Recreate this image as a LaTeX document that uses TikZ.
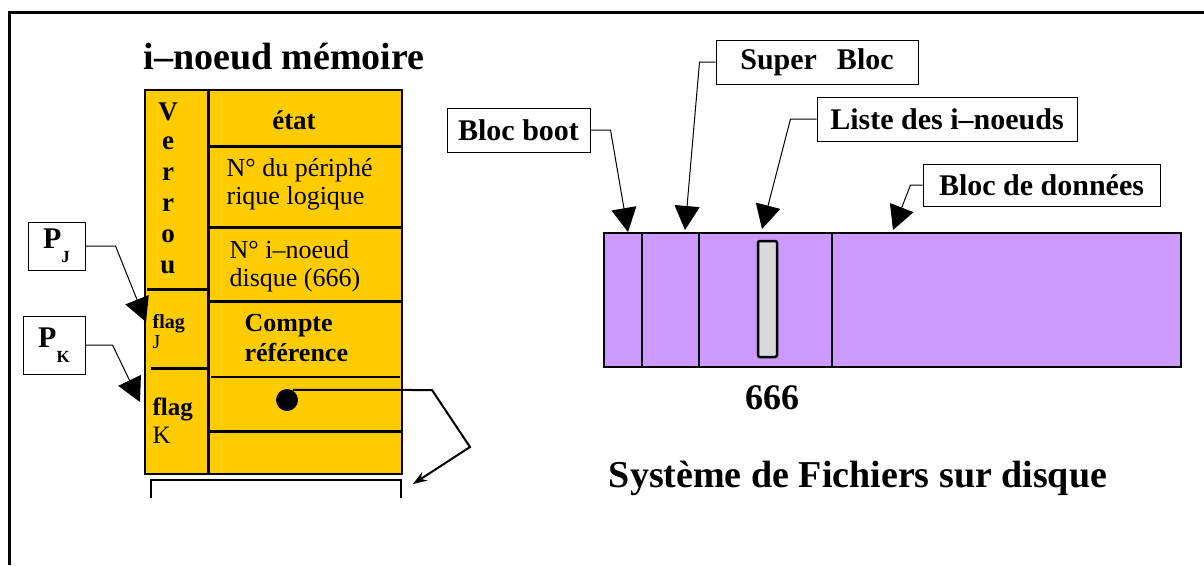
\documentclass[tikz,border=0pt]{standalone}
\usepackage{fontspec}
\setmainfont{Liberation Serif}
\usetikzlibrary{%
  arrows.meta,%
  positioning,%
  calc%
}
\definecolor{inodeyellow}{RGB}{255,204,0}
\definecolor{diskviolet}{RGB}{204,153,255}
\definecolor{slotgray}{RGB}{217,217,217}

\begin{document}
\begin{tikzpicture}[
  x=1pt, y=-1pt, line width=1.2pt, draw=black,
  tagbox/.style={rectangle, draw=black, line width=1pt, fill=white, inner sep=0pt, font=\fontsize{30}{32}\selectfont\bfseries},
  field/.style={anchor=west, align=left, inner sep=0pt, font=\fontsize{26}{28}\selectfont},
  vletter/.style={inner sep=0pt, font=\fontsize{27}{28}\selectfont\bfseries},
  bigarrow/.style={-{Triangle[length=24pt,width=25pt]}, line width=1pt},
  sep/.style={line width=3pt}
]
\useasboundingbox (0,0) rectangle (1204,565);

% cadre
\draw[line width=3pt] (9,565) -- (9,12) -- (1204,12);

% i-noeud en memoire
\node[font=\fontsize{38}{40}\selectfont\bfseries] (titre) at (284,57) {i--noeud mémoire};
\filldraw[fill=inodeyellow, line width=1.5pt] (145,90) rectangle (402,474);
\draw[sep] (208,90) -- (208,474);
\foreach \y in {146,227,301,431} {
  \draw[sep] (208,\y) -- (402,\y);
}
\draw (211,377) -- (400,377);
\draw[sep] (147,289) -- (208,289);
\draw[sep] (151,368) -- (208,368);

\foreach \c [count=\i from 0] in {V,e,r,r,o,u} {
  \node[vletter] (verrou\i) at (168,112+31*\i) {\c};
}
\node[vletter] (etat) at (294,120) {état};
\node[field] (periph) at (226,184) {N° du périphé\\rique logique};
\node[field] (numero) at (229,266) {N° i--noeud\\disque (666)};
\node[field, font=\fontsize{26}{30}\selectfont\bfseries] (compte) at (244,338) {Compte\\référence};
\node[field, font=\fontsize{20}{20}\selectfont] (flagj) at (152,332) {\textbf{flag}\\J};
\node[field, font=\fontsize{25}{28}\selectfont] (flagk) at (152,421) {\textbf{flag}\\K};

\draw[line width=2.5pt] (151,498) -- (151,480) -- (401,480) -- (401,498);

% pointeur vers le bloc
\node[circle, fill=black, inner sep=0pt, minimum size=22pt] (ptr) at (287,400) {};
\coordinate (b1) at (432,390);
\coordinate (b2) at (470,447);
\coordinate (tbloc) at (413,484);
\draw[line width=2pt, -{Stealth[length=14pt,width=10pt]}] (ptr.60) -- (b1) -- (b2) -- (tbloc);

% processus
\node[tagbox, minimum width=57pt, minimum height=48pt] (pj) at (56.5,246) {P\raisebox{-14pt}{\fontsize{17}{17}\selectfont J}};
\node[tagbox, minimum width=62pt, minimum height=58pt] (pk) at (54,345) {P\raisebox{-15pt}{\fontsize{17}{17}\selectfont K}};
\coordinate (tpj) at (146,322);
\coordinate (tpk) at (140,402);
\draw[bigarrow] (pj.east) -- ++(30,0) -- (tpj);
\draw[bigarrow] (pk.east) -- ++(27,0) -- (tpk);

% disque
\filldraw[fill=diskviolet, line width=1.5pt] (604,233) rectangle (1181,367);
\foreach \x in {642,699,832} {
  \draw[line width=1.5pt] (\x,233) -- (\x,367);
}
\filldraw[fill=slotgray, line width=2.5pt, rounded corners=2pt] (758,241) rectangle (777,357);
\node[font=\fontsize{36}{38}\selectfont\bfseries] (num) at (772,398) {666};
\node[font=\fontsize{38}{40}\selectfont\bfseries] (sgf) at (858,478) {Système de Fichiers sur disque};

\node[tagbox, minimum width=143pt, minimum height=44pt] (boot) at (518.5,130) {Bloc boot};
\node[tagbox, minimum width=202pt, minimum height=44pt] (super) at (817,62) {Super\hspace{20pt}Bloc\hspace{24pt}};
\node[tagbox, minimum width=260pt, minimum height=44pt] (liste) at (947,119) {Liste des i--noeuds};
\node[tagbox, minimum width=237pt, minimum height=42pt] (donnees) at (1041.5,185) {Bloc de données};

\coordinate (tboot) at (628,232);
\coordinate (tsuper) at (685,230);
\coordinate (tliste) at (762,229);
\coordinate (tdata) at (893,230);
\draw[bigarrow] (boot.east) -- ++(20,0) -- (tboot);
\draw[bigarrow] (super.west) -- ++(-16,0) -- (tsuper);
\draw[bigarrow] (liste.west) -- ++(-26,0) -- (tliste);
\draw[bigarrow] (donnees.west) -- ++(-12,0) -- (tdata);

\end{tikzpicture}
\end{document}
